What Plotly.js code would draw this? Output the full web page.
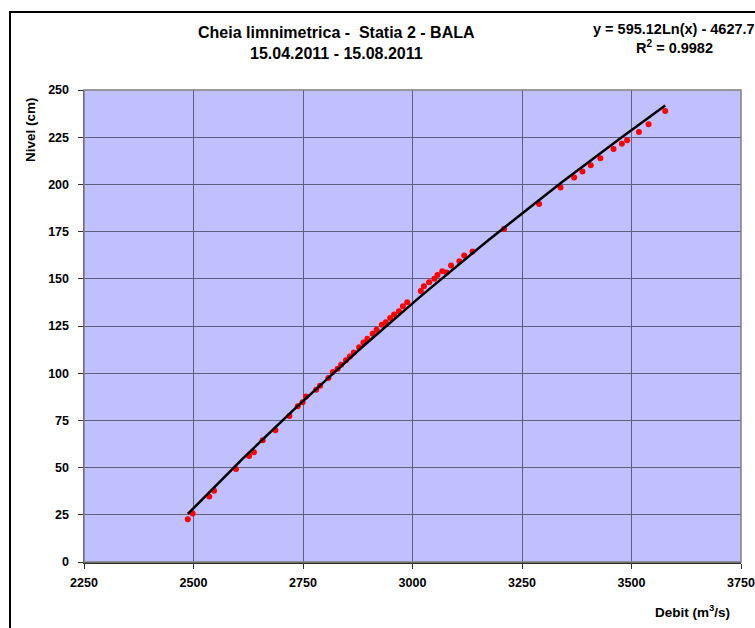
<!DOCTYPE html>
<html>
<head>
<meta charset="utf-8">
<script src="https://cdn.plot.ly/plotly-3.0.1.min.js"></script>
<style>
  html, body { margin: 0; padding: 0; background: #fff; }
  #wrap { position: relative; width: 755px; height: 628px; overflow: hidden; }
  #chart { width: 755px; height: 628px; }
  #frame { position: absolute; left: 9px; top: 11px; width: 800px; height: 700px;
           border-left: 2px solid #000; border-top: 2px solid #000; pointer-events: none; }
</style>
</head>
<body>
<div id="wrap">
  <div id="chart"></div>
  <div id="frame"></div>
</div>
<script>
// Measured points: discharge (m3/s) and level (cm)
const debit = [2487, 2498, 2536, 2547, 2597, 2627, 2638, 2658, 2687, 2719, 2738, 2749, 2757,
  2780, 2789, 2808, 2818, 2829, 2837, 2848, 2857, 2866, 2878, 2888, 2897, 2909, 2918, 2930,
  2939, 2949, 2958, 2969, 2978, 2988, 3019, 3026, 3038, 3050, 3057, 3068, 3078, 3088, 3107,
  3118, 3137, 3209, 3289, 3338, 3369, 3388, 3407, 3429, 3459, 3478, 3490, 3517, 3539, 3577];
const nivel = [22.6, 25.7, 34.7, 37.7, 49.2, 56.2, 58.1, 64.5, 69.8, 77.3, 82.5, 84.6, 87.7,
  91.3, 93.4, 97.4, 100.6, 102.4, 104.5, 106.8, 108.9, 111.0, 113.8, 116.3, 118.2, 120.9, 123.0, 125.6,
  127.0, 129.3, 131.1, 132.8, 135.5, 137.6, 143.5, 146.0, 148.2, 150.0, 152.0, 154.0, 153.4, 157.0, 159.3,
  162.3, 164.4, 176.4, 189.6, 198.4, 203.7, 206.8, 210.2, 213.9, 218.8, 221.5, 223.4, 227.8, 231.9, 238.9];

// Logarithmic trendline coefficients as printed on the chart
const coefA = 595.12;
const coefB = -4627.7;
const eqText = "y = 595.12Ln(x) - 4627.7";
const r2Text = "R<sup>2</sup> = 0.9982";

const titleLines = ["Cheia limnimetrica -  Statia 2 - BALA", "15.04.2011 - 15.08.2011"];
const xTitle = "Debit (m<sup>3</sup>/s)";
const yTitle = "Nivel (cm)";

// Trendline spans the data range
const xMin = Math.min(...debit), xMax = Math.max(...debit);
const trendX = [], trendY = [];
const nSteps = 60;
for (let i = 0; i <= nSteps; i++) {
  const x = xMin + (xMax - xMin) * i / nSteps;
  trendX.push(x);
  trendY.push(coefA * Math.log(x) + coefB);
}

const FONT = "Liberation Sans, Arial, sans-serif";

const traces = [
  { x: debit, y: nivel, type: "scatter", mode: "markers",
    marker: { color: "#FF0000", size: 6, line: { width: 0 } }, hoverinfo: "skip" },
  { x: trendX, y: trendY, type: "scatter", mode: "lines",
    line: { color: "#000000", width: 2.5 }, hoverinfo: "skip" }
];

const tickFont = { family: FONT, size: 12.5, color: "#000", weight: "bold" };

const layout = {
  width: 755, height: 628,
  margin: { l: 84, r: 14, t: 90, b: 66, pad: 0 },
  paper_bgcolor: "#FFFFFF",
  plot_bgcolor: "#C0C0FF",
  showlegend: false,
  font: { family: FONT, color: "#000", size: 12 },
  xaxis: {
    range: [2250, 3750], dtick: 250, tick0: 2250, autorange: false,
    showgrid: true, gridcolor: "#5E5E7E", gridwidth: 1,
    zeroline: false, showline: true, linecolor: "#303030", linewidth: 1.5,
    ticks: "outside", ticklen: 5, tickcolor: "#303030", tickwidth: 1,
    tickfont: tickFont, ticklabelstandoff: 3
  },
  yaxis: {
    range: [0, 250], dtick: 25, tick0: 0, autorange: false,
    showgrid: true, gridcolor: "#5E5E7E", gridwidth: 1,
    zeroline: false, showline: true, linecolor: "#303030", linewidth: 1.5,
    ticks: "outside", ticklen: 5, tickcolor: "#303030", tickwidth: 1,
    tickfont: tickFont, ticklabelstandoff: 6
  },
  shapes: [
    { type: "rect", xref: "paper", yref: "paper", x0: 0, x1: 1, y0: 0, y1: 1,
      line: { color: "#808080", width: 1.5 }, fillcolor: "rgba(0,0,0,0)", layer: "above" }
  ],
  annotations: [
    { xref: "paper", yref: "paper", x: (336 - 84) / 657, y: 1 + (90 - 33) / 472,
      text: "<b>" + titleLines[0] + "</b>", showarrow: false,
      xanchor: "center", yanchor: "middle", font: { family: FONT, size: 16, color: "#000" } },
    { xref: "paper", yref: "paper", x: (336 - 84) / 657, y: 1 + (90 - 53) / 472,
      text: "<b>" + titleLines[1] + "</b>", showarrow: false,
      xanchor: "center", yanchor: "middle", font: { family: FONT, size: 16, color: "#000" } },
    { xref: "paper", yref: "paper", x: (674 - 84) / 657, y: 1 + (90 - 29) / 472,
      text: "<b>" + eqText + "</b>", showarrow: false,
      xanchor: "center", yanchor: "middle", font: { family: FONT, size: 14.5, color: "#000" } },
    { xref: "paper", yref: "paper", x: (674 - 84) / 657, y: 1 + (90 - 47) / 472,
      text: "<b>" + r2Text + "</b>", showarrow: false,
      xanchor: "center", yanchor: "middle", font: { family: FONT, size: 14.5, color: "#000" } },
    { xref: "paper", yref: "paper", x: (692 - 84) / 657, y: -(611 - 562) / 472,
      text: "<b>" + xTitle + "</b>", showarrow: false,
      xanchor: "center", yanchor: "middle", font: { family: FONT, size: 13.5, color: "#000" } },
    { xref: "paper", yref: "paper", x: (30 - 84) / 657, y: 1 - (130 - 90) / 472,
      text: "<b>" + yTitle + "</b>", showarrow: false, textangle: -90,
      xanchor: "center", yanchor: "middle", font: { family: FONT, size: 13.5, color: "#000" } }
  ]
};

Plotly.newPlot("chart", traces, layout, { staticPlot: true, displayModeBar: false });
</script>
</body>
</html>
